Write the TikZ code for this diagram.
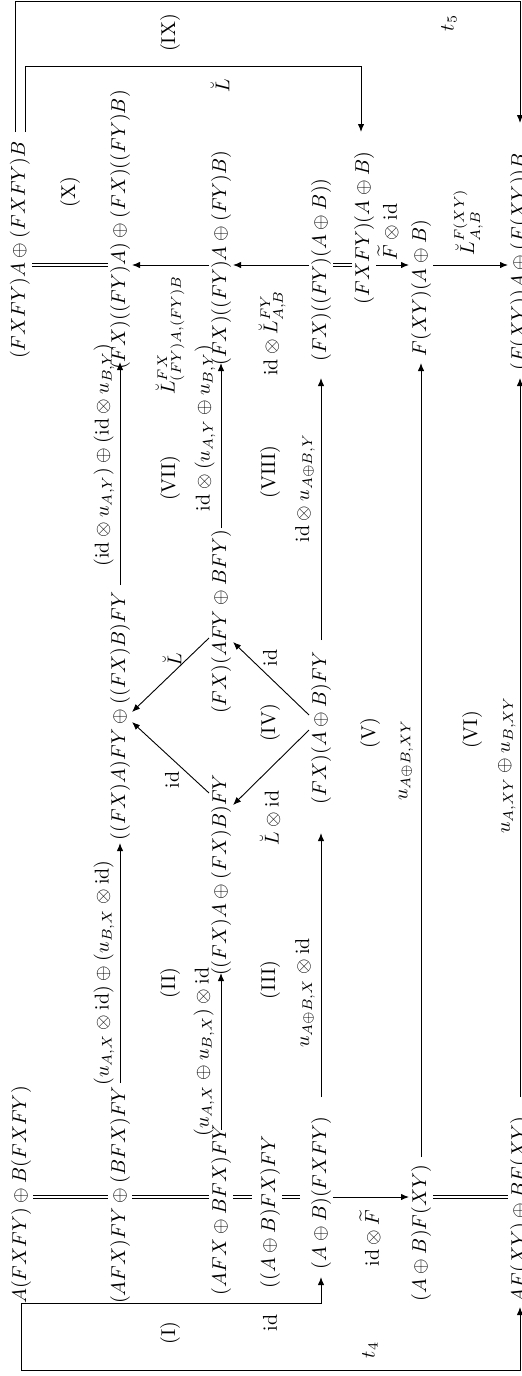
\documentclass[tikz,border=0pt]{standalone}
\usepackage{amsmath,amssymb}
\usetikzlibrary{arrows.meta,calc}
\begin{document}
\begin{tikzpicture}[x=0.5pt,y=-0.5pt,
  obj/.style={rotate=90,inner sep=1pt,outer sep=0pt},
  lbl/.style={rotate=90,inner sep=0pt},
  arr/.style={line width=0.45pt,-{Latex[length=4pt,width=3.2pt]}},
  eq/.style={line width=0.4pt,double,double distance=1.4pt}]
\useasboundingbox (0,0) rectangle (522,1376);
\coordinate (rL) at (0,1197);
\coordinate (rR) at (0,265);
% objects, left end
\node[obj] (n11) at (21,1195) {$A(FXFY)\oplus B(FXFY)$};
\node[obj] (n21) at (120,1195) {$(AFX)FY\oplus(BFX)FY$};
\node[obj] (n31) at (221,1210) {$(AFX\oplus BFX)FY$};
\node[obj] (n41) at (270,1212) {$((A\oplus B)FX)FY$};
\node[obj] (n51) at (321,1193) {$(A\oplus B)(FXFY)$};
\node[obj] (n61) at (421,1233) {$(A\oplus B)F(XY)$};
\node[obj] (n71) at (520,1210) {$AF(XY)\oplus BF(XY)$};
% objects, right end
\node[obj] (n1r) at (20,250) {$(FXFY)A\oplus(FXFY)B$};
\node[obj] (n23) at (120,230) {$(FX)((FY)A)\oplus(FX)((FY)B)$};
\node[obj] (n3r) at (221,258) {$(FX)((FY)A\oplus(FY)B)$};
\node[obj] (n5r) at (321,270) {$(FX)((FY)(A\oplus B))$};
\node[obj] (n6r) at (364,228) {$(FXFY)(A\oplus B)$};
\node[obj] (n6m) at (421,288) {$F(XY)(A\oplus B)$};
\node[obj] (n7r) at (520,262) {$(F(XY))A\oplus(F(XY))B$};
% objects, middle
\node[obj] (n22) at (120,716) {$((FX)A)FY\oplus((FX)B)FY$};
\node[obj] (n3m) at (221,622) {$(FX)(AFY\oplus BFY)$};
\node[obj] (n3b) at (221,875) {$((FX)A\oplus(FX)B)FY$};
\node[obj] (n5m) at (321,728) {$(FX)(A\oplus B)FY$};
% double lines and horizontal arrows
\draw[eq] (n11.south |- rL) -- (n21.north |- rL);
\draw[eq] (n21.south |- rL) -- (n31.north |- rL);
\draw[eq,shorten >=3pt] (n31.south |- rL) -- (n41.north |- rL);
\draw[eq,shorten >=4.5pt] (n41.south |- rL) -- (n51.north |- rL);
\draw[arr] (n51.south |- rL) -- (n61.north |- rL);
\draw[eq] (n61.south |- rL) -- (n71.north |- rL);
\draw[eq] (n1r.south |- rR) -- (n23.north |- rR);
\draw[arr] (n3r.north |- rR) -- (n23.south |- rR);
\draw[arr] (n5r.north |- rR) -- (n3r.south |- rR);
\draw[eq] (n5r.south |- rR) -- (n6r.north |- rR);
\draw[arr] (n6r.south |- rR) -- (n6m.north |- rR);
\draw[arr] (n6m.south |- rR) -- (n7r.north |- rR);
% long arrows
\draw[arr] (n21 |- 0,1083) -- (n22 |- 0,843);
\draw[arr] (n22 |- 0,585) -- (n23 |- 0,362);
\draw[arr] (n31 |- 0,1130) -- (n3b |- 0,973);
\draw[arr] (n3m |- 0,528) -- (n3r |- 0,363);
\draw[arr] (n51 |- 0,1097) -- (n5m |- 0,833);
\draw[arr] (n5m |- 0,640) -- (n5r |- 0,378);
\draw[arr] (n61 |- 0,1157) -- (n6m |- 0,363);
\draw[arr] (n71 |- 0,1097) -- (n7r |- 0,378);
% diamond
\draw[arr] (n5m.north |- 0,715) -- (n3m.south |- 0,642);
\draw[arr] (n5m.north |- 0,730) -- (n3b.south |- 0,805);
\draw[arr] (n3m.north |- 0,638) -- (n22.south |- 0,712);
\draw[arr] (n3b.north |- 0,793) -- (n22.south |- 0,722);
% loops
\draw[arr] (n11 |- 0,1303) -- (n51 |- 0,1303) -- (n51 |- 0,1277);
\draw[arr] (n11 |- 0,1303) -- (n11 |- 0,1370) -- (n71 |- 0,1370) -- (n71 |- 0,1307);
\draw[arr] ($(n1r |- 0,132)+(5,0)$) -- ($(n1r |- 0,66)+(5,0)$) -- ($(n6r |- 0,66)+(-3,0)$) -- ($(n6r |- 0,132)+(-3,0)$);
\draw[arr] ($(n1r |- 0,132)+(-5,0)$) -- ($(n1r |- 0,1.5)+(-5,0)$) -- (n7r |- 0,1.5) -- (n7r |- 0,123);
% arrow labels
\node[lbl] (l1) at (104,973) {$(u_{A,X}\otimes\mathrm{id})\oplus(u_{B,X}\otimes\mathrm{id})$};
\node[lbl] (l2) at (104,455) {$(\mathrm{id}\otimes u_{A,Y})\oplus(\mathrm{id}\otimes u_{B,Y})$};
\node[lbl] (l3) at (204,1052) {$(u_{A,X}\oplus u_{B,X})\otimes\mathrm{id}$};
\node[lbl] (l4) at (205,428) {$\mathrm{id}\otimes(u_{A,Y}\oplus u_{B,Y})$};
\node[lbl] (l5) at (305,993) {$u_{A\oplus B,X}\otimes\mathrm{id}$};
\node[lbl] (l6) at (305,488) {$\mathrm{id}\otimes u_{A\oplus B,Y}$};
\node[lbl] (l7) at (406,760) {$u_{A\oplus B,XY}$};
\node[lbl] (l8) at (507,765) {$u_{A,XY}\oplus u_{B,XY}$};
\node[lbl] (l9) at (172,660) {$\breve{L}$};
\node[lbl] (l10) at (172,780) {$\mathrm{id}$};
\node[lbl] (l11) at (270,658) {$\mathrm{id}$};
\node[lbl] (l12) at (270,818) {$\breve{L}\otimes\mathrm{id}$};
\node[lbl] (l13) at (170,335) {$\breve{L}^{FX}_{(FY)A,(FY)B}$};
\node[lbl] (l14) at (272,333) {$\mathrm{id}\otimes\breve{L}^{FY}_{A,B}$};
\node[lbl] (l15) at (388,232) {$\widetilde{F}\otimes\mathrm{id}$};
\node[lbl] (l16) at (468,222) {$\breve{L}^{F(XY)}_{A,B}$};
\node[lbl] (l17) at (370,1238) {$\mathrm{id}\otimes\widetilde{F}$};
\node[lbl] (l18) at (220,86) {$\breve{L}$};
\node[lbl] (l19) at (449,23) {$t_5$};
\node[lbl] (l20) at (270,1323) {$\mathrm{id}$};
\node[lbl] (l21) at (370,1350) {$t_4$};
% region labels
\node[lbl] (r1) at (170,1333) {(I)};
\node[lbl] (r2) at (170,983) {(II)};
\node[lbl] (r3) at (270,980) {(III)};
\node[lbl] (r4) at (270,723) {(IV)};
\node[lbl] (r5) at (370,733) {(V)};
\node[lbl] (r6) at (472,730) {(VI)};
\node[lbl] (r7) at (170,478) {(VII)};
\node[lbl] (r8) at (270,472) {(VIII)};
\node[lbl] (r9) at (170,33) {(IX)};
\node[lbl] (r10) at (70,192) {(X)};
\end{tikzpicture}
\end{document}
